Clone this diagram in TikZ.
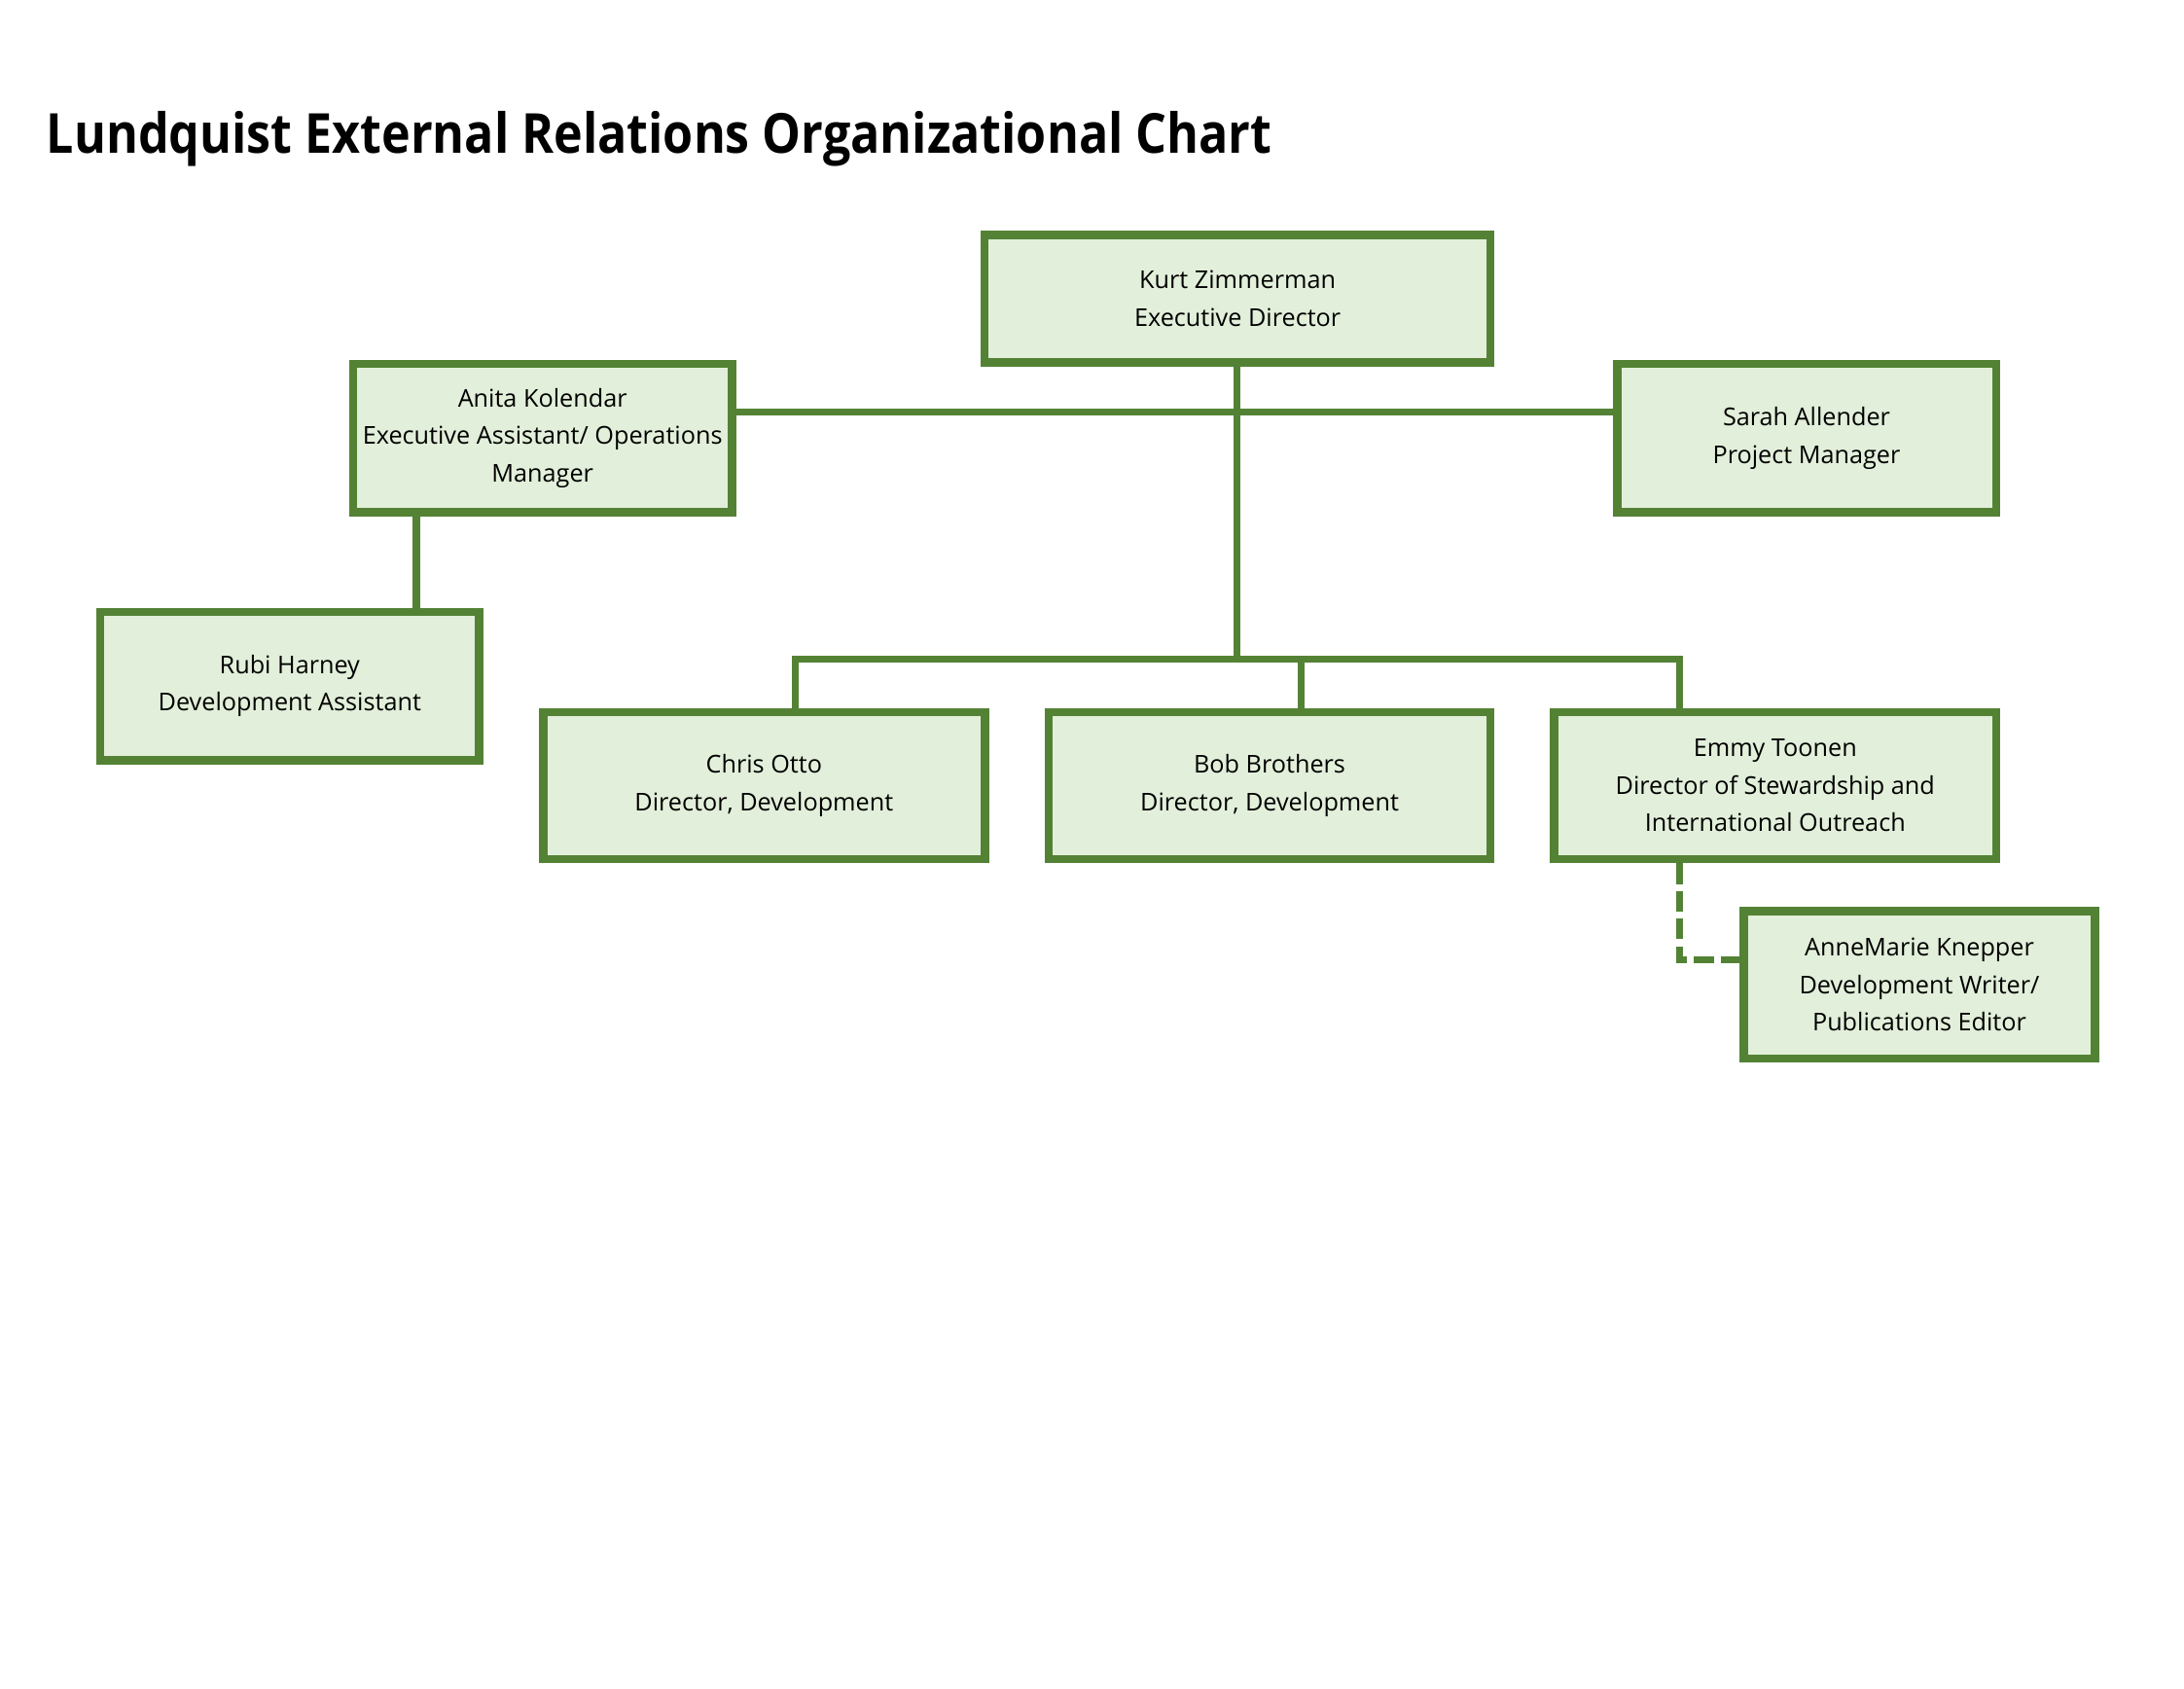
\documentclass[tikz,border=0pt]{standalone}
\usepackage{fontspec}
\setmainfont{Open Sans}
\newfontfamily\titlefont[FakeStretch=0.885]{Open Sans Bold}
\definecolor{boxgreen}{HTML}{548235}
\definecolor{boxfill}{HTML}{E2EFDA}
\begin{document}
\begin{tikzpicture}[x=0.5051pt, y=-0.5051pt,
  box/.style={draw=boxgreen, fill=boxfill, line width=3pt, rectangle, align=center, inner sep=0pt, font=\fontsize{8.9}{13.6}\selectfont},
  link/.style={draw=boxgreen, line width=2.6pt}]
  \useasboundingbox (0,0) rectangle (1568,1212);
  \node[anchor=base west, inner sep=0pt, font=\fontsize{20}{24}\titlefont] (title) at (33,110) {Lundquist External Relations Organizational Chart};

  \node[box, minimum width=183.4pt, minimum height=46.2pt] (kurt) at (888.5,214.5) {Kurt Zimmerman\\Executive Director};
  \node[box, minimum width=137.4pt, minimum height=53.8pt] (anita) at (389.5,314.5) {Anita Kolendar\\Executive Assistant/ Operations\\Manager};
  \node[box, minimum width=137.4pt, minimum height=53.8pt] (sarah) at (1297,314.5) {Sarah Allender\\Project Manager};
  \node[box, minimum width=137.4pt, minimum height=53.8pt] (rubi) at (208,492.5) {Rubi Harney\\Development Assistant};
  \node[box, minimum width=160.2pt, minimum height=53.4pt] (chris) at (548.5,564) {Chris Otto\\Director, Development};
  \node[box, minimum width=160.2pt, minimum height=53.4pt] (bob) at (911.5,564) {Bob Brothers\\Director, Development};
  \node[box, minimum width=160.2pt, minimum height=53.4pt] (emmy) at (1274.5,564) {Emmy Toonen\\Director of Stewardship and\\International Outreach};
  \node[box, minimum width=127.4pt, minimum height=53.4pt] (anne) at (1378,707) {AnneMarie Knepper\\Development Writer/\\Publications Editor};

  \coordinate (hub) at (888,296);
  \coordinate (busL) at (571,473);
  \coordinate (busM) at (934,473);
  \coordinate (busR) at (1206,473);
  \coordinate (drop) at (299,400);
  \coordinate (bend) at (1206,689);

  \draw[link] (kurt.south -| hub) -- (busL -| hub);
  \draw[link] (anita.east |- hub) -- (sarah.west |- hub);
  \draw[link] (chris.north -| busL) -- (busL) -- (busR) -- (emmy.north -| busR);
  \draw[link] (busM) -- (bob.north -| busM);
  \draw[link] (anita.south -| drop) -- (rubi.north -| drop);
  \draw[link, dash pattern=on 7.5pt off 2.5pt] (emmy.south -| bend) -- (bend) -- (anne.west |- bend);
\end{tikzpicture}
\end{document}
